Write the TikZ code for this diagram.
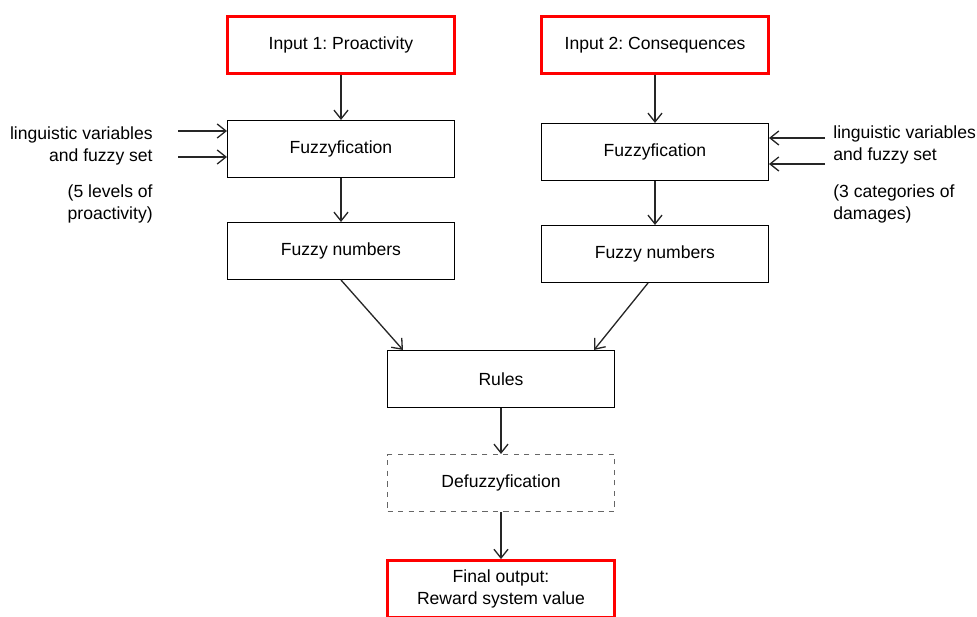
\documentclass[tikz,border=0pt]{standalone}
\usepackage{fontspec}
\setmainfont{Liberation Sans}
\usetikzlibrary{arrows.meta}
\frenchspacing

\begin{document}
\begin{tikzpicture}[x=0.02cm,y=-0.02cm,font=\fontsize{10}{12.5}\selectfont,
box/.style={draw,line width=0.6pt,minimum width=4.54cm,minimum height=1.14cm,align=center,inner sep=0pt},
redbox/.style={box,draw=red,line width=1.6pt},
dashbox/.style={box,draw=black!60,dashed},
arr/.style={-{Straight Barb[length=5pt,width=8pt]},line width=0.75pt,black!85}]
\useasboundingbox (0,0) rectangle (977,617);
\clip (0,0) rectangle (977,617);
% inputs
\node[redbox] (in1) at (341,45) {Input 1: Proactivity};
\node[redbox] (in2) at (655,45) {Input 2: Consequences};
% fuzzyfication
\node[box] (fuzL) at (341,149) {Fuzzyfication};
\node[box] (fuzR) at (655,152) {Fuzzyfication};
\node[box] (numL) at (341,251) {Fuzzy numbers};
\node[box] (numR) at (655,254) {Fuzzy numbers};
% rules and output
\node[box] (rules) at (501,379) {Rules};
\node[dashbox] (defuz) at (501,483) {Defuzzyfication};
\node[redbox] (out) at (501,589) {Final output:\\Reward system value};
% side texts
\node[align=right,anchor=east,inner sep=0pt] (lingL) at (153,146) {linguistic variables\\and fuzzy set};
\node[align=right,anchor=east,inner sep=0pt] (levL) at (153,204) {(5 levels of\\proactivity)};
\node[align=left,anchor=west,inner sep=0pt] (lingR) at (833,145) {linguistic variables\\and fuzzy set};
\node[align=left,anchor=west,inner sep=0pt] (catR) at (833,204) {(3 categories of\\damages)};
\coordinate (aL1) at (178,131); \coordinate (aL2) at (178,157);
\coordinate (aR1) at (825,138); \coordinate (aR2) at (825,164);
% arrows
\draw[arr] (in1) -- (fuzL);
\draw[arr] (in2) -- (fuzR);
\draw[arr] (fuzL) -- (numL);
\draw[arr] (fuzR) -- (numR);
\draw[arr] (aL1) -- (aL1 -| fuzL.west);
\draw[arr] (aL2) -- (aL2 -| fuzL.west);
\draw[arr] (aR1) -- (aR1 -| fuzR.east);
\draw[arr] (aR2) -- (aR2 -| fuzR.east);
\draw[arr] (numL.south) -- ([xshift=0.32cm]rules.north west);
\draw[arr] ([xshift=-0.14cm]numR.south) -- ([xshift=-0.42cm]rules.north east);
\draw[arr] (rules) -- (defuz);
\draw[arr] (defuz) -- (out);
\end{tikzpicture}
\end{document}
